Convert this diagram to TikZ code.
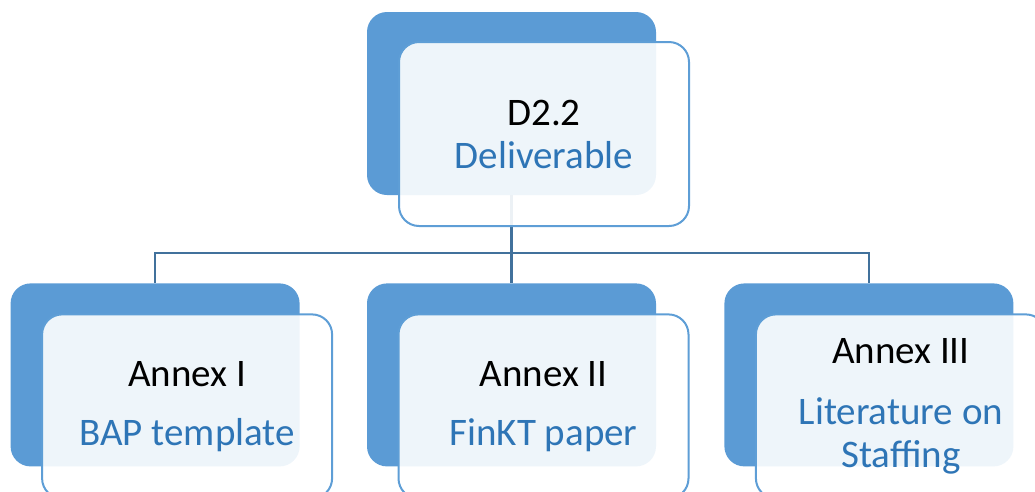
\documentclass[tikz,border=0pt]{standalone}
\usepackage{fontspec}
\setmainfont{Carlito}
\usepackage{tikz}
\usetikzlibrary{positioning}
\usepackage{xcolor}
\definecolor{accent}{HTML}{5B9BD5}
\definecolor{frameline}{HTML}{5E9ED6}
\definecolor{linkline}{HTML}{41719C}
\definecolor{labelblue}{HTML}{2E75B6}

\begin{document}
\begin{tikzpicture}[
        node distance=88pt,
        back/.style={
            rectangle,
            fill=accent,
            rounded corners=20pt,
            minimum width=289pt,
            minimum height=183pt
        },
        front/.style={
            rectangle,
            draw=frameline,
            line width=2pt,
            fill=white,
            fill opacity=0.9,
            text opacity=1,
            rounded corners=20pt,
            align=center,
            minimum width=290pt,
            minimum height=184pt,
            font=\fontsize{39}{43}\selectfont
        },
        link/.style={draw=linkline, line width=2.2pt}
    ]

    \useasboundingbox (0,0) rectangle (1035pt,-491pt);
    \clip (0,0) rectangle (1035pt,-491pt);

    % BACK BLOCKS
    \node[back] (topback) at (511.5pt,-103.5pt) {};
    \node[back, below=of topback] (midback) {};
    \node[back, left=67pt of midback] (leftback) {};
    \node[back, right=68pt of midback] (rightback) {};

    % CONNECTIONS
    \draw[link] (topback.south) -- ++(0,-58pt) -| (leftback.north);
    \draw[link] (topback.south) -- (midback.north);
    \draw[link] (topback.south) -- ++(0,-58pt) -| (rightback.north);

    % FRONT BOXES
    \node[front] (deliv) at ([shift={(32.5pt,-30.5pt)}]topback.center)
        {D2.2\\\textcolor{labelblue}{Deliverable}};
    \node[front] (annex1) at ([shift={(32pt,-31.5pt)}]leftback.center)
        {Annex I\\[16pt]\textcolor{labelblue}{BAP template}};
    \node[front] (annex2) at ([shift={(32pt,-31.5pt)}]midback.center)
        {Annex II\\[16pt]\textcolor{labelblue}{FinKT paper}};
    \node[front] (annex3) at ([shift={(32pt,-31.5pt)}]rightback.center)
        {Annex III\\[18pt]\textcolor{labelblue}{Literature on}\\\textcolor{labelblue}{Staffing}};

\end{tikzpicture}
\end{document}
